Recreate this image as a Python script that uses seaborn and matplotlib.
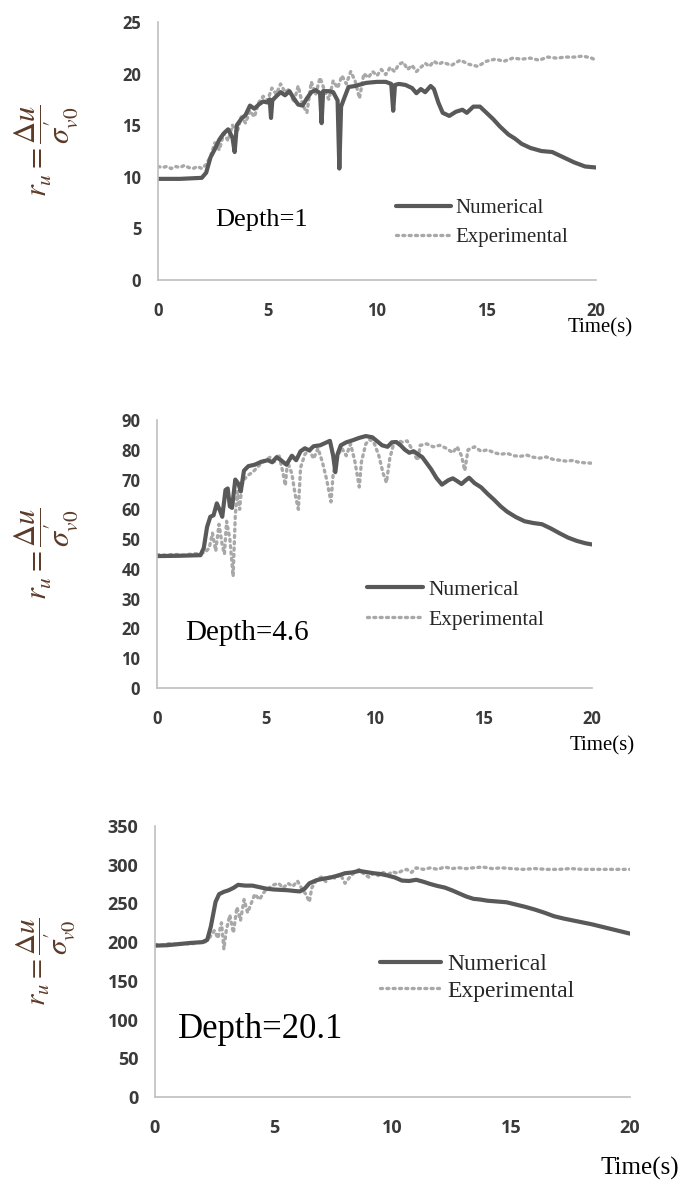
import numpy as np
import pandas as pd
import seaborn as sns
import matplotlib.pyplot as plt

# ---- data (time in s, ru values) ----
# Depth = 1
t_num_1 = [0, 1.0, 2.0, 2.2, 2.4, 2.6, 2.8, 3.0, 3.2, 3.4, 3.5, 3.6, 3.8, 4.0, 4.2, 4.4, 4.6, 4.8, 5.0, 5.1,
           5.16, 5.22, 5.4, 5.6, 5.8, 6.0, 6.2, 6.4, 6.6, 6.8, 7.0, 7.2, 7.4, 7.47, 7.54, 7.8, 8.0, 8.2, 8.28,
           8.36, 8.5, 8.7, 9.0, 9.5, 10.0, 10.4, 10.65, 10.74, 10.82, 11.0, 11.3, 11.6, 11.8, 12.0, 12.2,
           12.45, 12.6, 12.8, 13.0, 13.3, 13.6, 13.9, 14.1, 14.4, 14.7, 15.0, 15.3, 15.6, 16.0, 16.3, 16.6,
           17.0, 17.5, 18.0, 18.5, 19.0, 19.5, 20.0]
v_num_1 = [9.8, 9.8, 9.9, 10.4, 11.9, 12.7, 13.6, 14.2, 14.6, 13.8, 12.4, 15.0, 15.6, 16.0, 16.9, 16.6, 17.0,
           17.3, 17.2, 17.5, 15.7, 17.4, 17.8, 18.2, 17.9, 18.3, 17.6, 17.0, 16.9, 17.6, 18.2, 18.4, 18.1,
           15.2, 18.3, 18.3, 18.2, 17.4, 10.8, 16.8, 17.6, 18.7, 18.8, 19.1, 19.2, 19.2, 19.0, 16.4, 18.9,
           19.0, 18.9, 18.6, 18.1, 18.5, 18.2, 18.8, 18.5, 17.2, 16.2, 15.9, 16.3, 16.5, 16.2, 16.8, 16.8,
           16.2, 15.6, 14.9, 14.1, 13.7, 13.2, 12.8, 12.5, 12.4, 11.9, 11.4, 11.0, 10.9]
t_exp_1 = [0, 0.2, 0.4, 0.6, 0.8, 1.0, 1.2, 1.4, 1.6, 1.8, 2.0, 2.2, 2.4, 2.6, 2.8, 3.0, 3.2, 3.4, 3.6, 3.8,
           4.0, 4.2, 4.4, 4.6, 4.8, 5.0, 5.2, 5.4, 5.6, 5.8, 6.0, 6.2, 6.4, 6.6, 6.8, 7.0, 7.2, 7.4, 7.6, 7.8,
           8.0, 8.2, 8.4, 8.6, 8.8, 9.0, 9.2, 9.4, 9.6, 9.8, 10.0, 10.2, 10.4, 10.6, 10.8, 11.0, 11.2, 11.4,
           11.6, 11.8, 12.0, 12.2, 12.4, 12.6, 12.8, 13.0, 13.4, 13.8, 14.2, 14.6, 15.0, 15.4, 15.8, 16.2,
           16.6, 17.0, 17.4, 17.8, 18.2, 18.6, 19.0, 19.4, 19.8, 20.0]
v_exp_1 = [11.0, 10.9, 11.0, 10.8, 11.0, 10.9, 11.1, 10.9, 10.8, 11.0, 10.8, 11.2, 12.0, 13.3, 12.6, 14.2,
           13.5, 15.0, 14.2, 15.8, 15.2, 16.4, 15.8, 17.2, 17.8, 17.4, 18.6, 18.0, 19.0, 18.2, 18.5, 17.2,
           18.8, 17.0, 16.2, 19.2, 18.0, 19.6, 18.4, 17.5, 19.3, 18.6, 19.8, 19.0, 20.2, 19.3, 17.6, 20.0,
           19.6, 20.2, 19.8, 20.4, 19.9, 20.6, 20.2, 20.9, 21.1, 20.4, 20.8, 20.2, 20.6, 21.0, 20.7, 21.2,
           20.9, 21.1, 20.8, 21.3, 20.9, 20.7, 21.2, 21.4, 21.2, 21.5, 21.4, 21.5, 21.3, 21.6, 21.5, 21.6,
           21.6, 21.7, 21.5, 21.3]

# Depth = 4.6
t_num_2 = [0, 1.0, 2.0, 2.15, 2.3, 2.45, 2.6, 2.75, 2.9, 3.0, 3.15, 3.25, 3.35, 3.45, 3.6, 3.75, 3.85, 4.0,
           4.2, 4.5, 4.8, 5.1, 5.3, 5.5, 5.7, 5.95, 6.2, 6.4, 6.6, 6.8, 7.0, 7.2, 7.5, 7.8, 7.95, 8.1, 8.2,
           8.3, 8.45, 8.7, 9.0, 9.3, 9.6, 9.9, 10.1, 10.35, 10.6, 10.8, 11.0, 11.2, 11.4, 11.6, 11.8, 12.0,
           12.2, 12.4, 12.6, 12.85, 13.1, 13.4, 13.6, 13.8, 14.0, 14.2, 14.35, 14.6, 14.9, 15.2, 15.5, 15.8,
           16.1, 16.5, 16.9, 17.3, 17.7, 18.1, 18.5, 18.9, 19.3, 19.7, 20.0]
v_num_2 = [44.3, 44.4, 44.6, 47.0, 54.0, 57.5, 58.0, 62.0, 59.5, 57.5, 66.5, 67.0, 61.0, 60.5, 70.0, 68.5,
           66.0, 73.0, 74.5, 75.0, 76.0, 76.5, 75.8, 77.5, 76.5, 75.0, 78.0, 76.5, 79.5, 80.5, 79.8, 81.2,
           81.5, 82.5, 83.0, 78.0, 72.5, 78.5, 81.5, 82.5, 83.2, 84.0, 84.6, 84.2, 83.0, 81.5, 81.0, 82.5,
           82.6, 81.5, 80.0, 79.0, 79.5, 78.5, 77.5, 75.5, 73.5, 70.5, 68.3, 69.8, 70.4, 69.5, 68.5, 69.8,
           70.6, 68.8, 67.4, 65.2, 63.2, 61.0, 59.2, 57.4, 56.0, 55.4, 55.0, 53.6, 52.0, 50.5, 49.4, 48.6,
           48.2]
t_exp_2 = [0, 0.4, 0.8, 1.2, 1.6, 2.0, 2.2, 2.4, 2.55, 2.7, 2.85, 3.0, 3.1, 3.2, 3.35, 3.5, 3.6, 3.7, 3.8,
           3.9, 4.0, 4.2, 4.4, 4.6, 4.8, 5.0, 5.2, 5.4, 5.6, 5.8, 5.9, 6.0, 6.2, 6.35, 6.5, 6.6, 6.8, 7.0,
           7.2, 7.4, 7.6, 7.8, 8.0, 8.1, 8.3, 8.5, 8.7, 8.9, 9.1, 9.3, 9.4, 9.6, 9.8, 10.0, 10.2, 10.4,
           10.55, 10.7, 10.9, 11.1, 11.3, 11.5, 11.7, 11.9, 12.0, 12.1, 12.4, 12.7, 13.0, 13.3, 13.6, 13.8,
           14.0, 14.15, 14.3, 14.6, 14.9, 15.2, 15.5, 15.8, 16.1, 16.4, 16.7, 17.0, 17.3, 17.6, 17.9, 18.2,
           18.5, 18.8, 19.1, 19.4, 19.7, 20.0]
v_exp_2 = [44.8, 44.6, 44.9, 44.6, 45.0, 45.2, 45.5, 47.0, 52.0, 46.0, 55.0, 48.0, 45.0, 56.0, 50.0, 37.5,
           58.0, 66.0, 60.0, 68.0, 70.0, 71.5, 72.5, 74.0, 75.5, 76.5, 77.5, 76.0, 78.5, 72.0, 68.0, 76.0,
           72.0, 65.0, 60.0, 74.0, 78.5, 80.0, 77.0, 80.5, 76.0, 70.0, 62.5, 72.0, 78.0, 80.5, 78.0, 82.0,
           76.0, 67.5, 76.0, 82.0, 83.5, 82.0, 78.0, 72.0, 69.0, 77.0, 82.5, 83.0, 82.5, 83.0, 80.5, 77.5,
           76.5, 81.5, 82.0, 81.0, 81.5, 80.5, 79.0, 81.0, 78.0, 73.0, 80.0, 81.0, 79.5, 80.0, 79.0, 78.5,
           78.8, 78.0, 77.8, 78.2, 77.5, 77.2, 77.6, 76.8, 76.5, 76.2, 76.4, 75.8, 75.6, 75.5]

# Depth = 20.1
t_num_3 = [0, 0.5, 1.0, 1.5, 2.0, 2.2, 2.35, 2.45, 2.55, 2.7, 2.9, 3.1, 3.3, 3.5, 3.8, 4.1, 4.4, 4.7, 5.0,
           5.3, 5.6, 5.9, 6.1, 6.3, 6.5, 6.8, 7.1, 7.4, 7.7, 8.0, 8.3, 8.6, 8.9, 9.2, 9.5, 9.8, 10.1, 10.4,
           10.7, 11.0, 11.3, 11.6, 11.9, 12.2, 12.5, 12.8, 13.1, 13.4, 13.7, 14.0, 14.4, 14.8, 15.2, 15.6,
           16.0, 16.4, 16.8, 17.2, 17.6, 18.0, 18.4, 18.8, 19.2, 19.6, 20.0]
v_num_3 = [195.5, 196, 197.5, 199, 200, 203, 220, 236, 252, 262, 265, 267, 270, 274, 273, 273, 271, 269, 268,
           267.5, 267, 266, 265.5, 269, 276, 280, 282, 283.5, 286, 289, 290, 292, 290.5, 289, 288, 286,
           283.5, 279.5, 279, 280.5, 278, 275, 272.5, 270.5, 267, 263, 259, 256, 255, 253.5, 252.5, 251.5,
           248.5, 245.5, 242, 238, 233.5, 230.5, 228, 225.5, 223, 220, 217, 214, 211]
t_exp_3 = [0, 0.3, 0.6, 0.9, 1.2, 1.5, 1.8, 2.1, 2.3, 2.5, 2.65, 2.8, 2.9, 3.0, 3.15, 3.3, 3.45, 3.6, 3.75,
           3.9, 4.05, 4.2, 4.4, 4.6, 4.8, 5.0, 5.2, 5.4, 5.6, 5.8, 6.0, 6.2, 6.35, 6.5, 6.6, 6.8, 7.0, 7.2,
           7.4, 7.6, 7.8, 8.0, 8.2, 8.4, 8.6, 8.8, 9.0, 9.2, 9.4, 9.6, 9.8, 10.0, 10.2, 10.4, 10.6, 10.8,
           11.0, 11.3, 11.6, 11.9, 12.2, 12.5, 12.8, 13.1, 13.4, 13.8, 14.2, 14.6, 15.0, 15.5, 16.0, 16.5,
           17.0, 17.5, 18.0, 18.5, 19.0, 19.5, 20.0]
v_exp_3 = [197, 196, 198, 197, 198.5, 197.5, 199.5, 200, 206, 215, 205, 225, 191, 215, 235, 212, 245, 228,
           255, 238, 250, 262, 255, 265, 270, 274, 276, 270, 276, 272, 279, 268, 262, 252, 270, 280, 284,
           278, 286, 282, 288, 276, 284, 290, 294, 288, 284, 289, 286, 290, 287, 291, 289, 292, 294, 290,
           296, 294, 296, 294, 297, 295, 296, 295, 296, 297, 295, 296, 295, 294, 295, 294, 294, 295, 294,
           294, 294, 294, 294]

depth_labels = ["Depth=1", "Depth=4.6", "Depth=20.1"]
y_maxes = [25, 90, 350]
y_steps = [5, 10, 50]
x_ticks = [0, 5, 10, 15, 20]
series_names = ["Numerical", "Experimental"]

numerical = [(t_num_1, v_num_1), (t_num_2, v_num_2), (t_num_3, v_num_3)]
experimental = [(t_exp_1, v_exp_1), (t_exp_2, v_exp_2), (t_exp_3, v_exp_3)]

sns.set_style("white")
plt.rcParams["font.family"] = ["DejaVu Sans"]
plt.rcParams["mathtext.fontset"] = "stix"

W, H = 681, 1184
fig = plt.figure(figsize=(W / 100, H / 100), dpi=100)

# panel boxes in pixels: left, top, right, bottom
boxes = [(158, 22, 596, 280), (157, 420, 592, 688), (155, 826, 630, 1097)]
depth_pos = [(215, 220, 19), (185, 633, 21), (178, 1030, 25)]
legend_pos = [(386, 188, 15, 0.45), (356, 569, 15.5, 0.45), (368, 942, 17, 0.2)]
time_pos = [(600, 328, 15), (602, 746, 15), (640, 1168, 18)]
tick_size = [12, 12, 13]
ylabel_size = [22, 22, 21]

for i in range(3):
    l, t, r, b = boxes[i]
    ax = fig.add_axes([l / W, 1 - b / H, (r - l) / W, (b - t) / H])

    tn, vn = numerical[i]
    te, ve = experimental[i]
    df_n = pd.DataFrame({"time": tn, "ru": vn})
    df_e = pd.DataFrame({"time": te, "ru": ve})

    sns.lineplot(data=df_e, x="time", y="ru", ax=ax, sort=False, estimator=None,
                 color="#a8a8a8", linewidth=2.4, linestyle=(0, (0.6, 1.3)),
                 dash_capstyle="round", label=series_names[1])
    sns.lineplot(data=df_n, x="time", y="ru", ax=ax, sort=False, estimator=None,
                 color="#595959", linewidth=3.0, label=series_names[0])

    ax.set_xlim(0, 20)
    ax.set_ylim(0, y_maxes[i])
    ax.set_xticks(x_ticks)
    ax.set_yticks(np.arange(0, y_maxes[i] + 1, y_steps[i]))
    ax.tick_params(length=0, labelsize=tick_size[i], colors="#3a3a3a")
    ax.tick_params(axis="y", pad=12)
    ax.tick_params(axis="x", pad=16)
    for lab in ax.get_xticklabels() + ax.get_yticklabels():
        lab.set_family("Open Sans")
        lab.set_fontweight("bold")
    ax.set_xlabel("")
    ax.set_ylabel("")
    for s in ["top", "right"]:
        ax.spines[s].set_visible(False)
    for s in ["left", "bottom"]:
        ax.spines[s].set_color("#bfbfbf")
        ax.spines[s].set_linewidth(1.2)

    # legend, numerical first
    lx, ly, lsize, lsp = legend_pos[i]
    handles, labels = ax.get_legend_handles_labels()
    ax.legend(handles[::-1], labels[::-1], loc="upper left",
              bbox_to_anchor=(lx / W, 1 - ly / H), bbox_transform=fig.transFigure,
              frameon=False, borderpad=0, handlelength=2.6, handletextpad=0.25,
              labelspacing=lsp, prop={"family": "Liberation Serif", "size": lsize})

    dx, dy, dsize = depth_pos[i]
    fig.text(dx / W, 1 - dy / H, depth_labels[i], family="Liberation Serif",
             fontsize=dsize, va="center", ha="left", color="black")

    tx, ty, tsize = time_pos[i]
    fig.text(tx / W, 1 - ty / H, "Time(s)", family="Liberation Serif",
             fontsize=tsize, va="center", ha="center", color="black")

    fig.text(46 / W, 1 - ((t + b) / 2) / H,
             r"$r_u=\dfrac{\Delta u}{\sigma^{\prime}_{v0}}$",
             rotation=90, ha="center", va="center", fontsize=ylabel_size[i],
             color="#5c3a28")

fig.savefig("out.png", dpi=100)
